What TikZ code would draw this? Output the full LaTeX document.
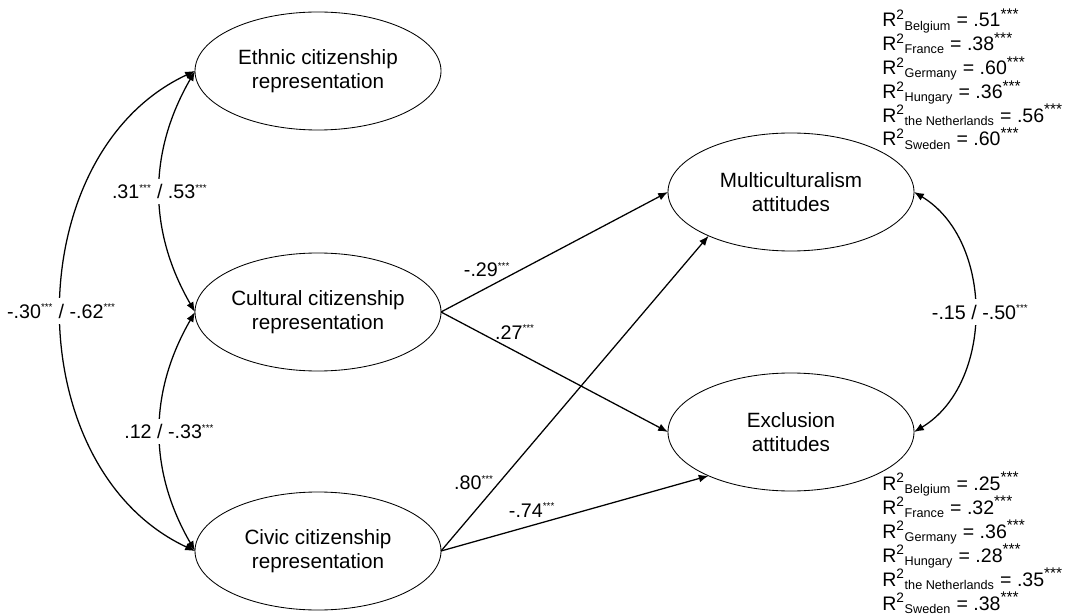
\documentclass[tikz,border=0pt]{standalone}
\usepackage{fontspec}
\setmainfont{Liberation Sans}
\usetikzlibrary{shapes.geometric,arrows.meta}

\newcommand{\pstars}{\textsuperscript{\fontsize{7pt}{7pt}\selectfont ***}}
\newcommand{\rstars}{\textsuperscript{\fontsize{11pt}{11pt}\selectfont ***}}
\newcommand{\rsq}[1]{R\textsuperscript{2}\textsubscript{\fontsize{9pt}{9pt}\selectfont #1}}

\tikzset{
    latent/.style={draw, ellipse, line width=0.6pt, minimum width=6.15cm, minimum height=2.95cm,
        inner sep=0pt, outer sep=0pt, align=center, font=\fontsize{14.7pt}{17pt}\selectfont},
    effect/.style={-{Latex[length=7pt,width=5.5pt]}, line width=0.9pt},
    corr/.style={{Latex[length=7pt,width=5.5pt]}-{Latex[length=7pt,width=5.5pt]}, line width=0.9pt},
    coef/.style={font=\fontsize{14pt}{14pt}\selectfont, inner sep=1pt},
    corrlbl/.style={coef, fill=white, inner sep=4pt},
    rsqline/.style={font=\fontsize{13.9pt}{17pt}\selectfont, inner sep=0pt, anchor=base west}
}

\begin{document}
\begin{tikzpicture}
                    \useasboundingbox (0,0) rectangle (26.85,15.35);
                    % latent variables
                    \node [latent] (ethnic) at (7.95,13.575) {Ethnic citizenship\\representation};
                    \node [latent] (cultural) at (7.95,7.55) {Cultural citizenship\\representation};
                    \node [latent] (civic) at (7.95,1.575) {Civic citizenship\\representation};
                    \node [latent] (multi) at (19.775,10.55) {Multiculturalism\\attitudes};
                    \node [latent] (excl) at (19.775,4.55) {Exclusion\\attitudes};
                    % paths
                    \draw [effect] (cultural.east) -- (multi.west);
                    \draw [effect] (cultural.east) -- (excl.west);
                    \draw [effect] (civic.east) -- (multi.208);
                    \draw [effect] (civic.east) -- (excl.208);
                    \node [coef] (b1) at (12.175,8.6) {-.29\pstars};
                    \node [coef] (b2) at (12.875,7.05) {.27\pstars};
                    \node [coef] (b3) at (11.85,3.275) {.80\pstars};
                    \node [coef] (b4) at (13.3,2.6) {-.74\pstars};
                    % correlations
                    \draw [corr] (ethnic.west) to [out=240, in=120] node [corrlbl, midway] (r1) {.31\pstars{} / .53\pstars} (cultural.west);
                    \draw [corr] (cultural.west) to [out=240, in=120] node [corrlbl, midway, xshift=0.23cm] (r2) {.12 / -.33\pstars} (civic.west);
                    \draw [corr] (ethnic.west) to [out=205, in=155, looseness=1.05] node [corrlbl, midway] (r3) {-.30\pstars{} / -.62\pstars} (civic.west);
                    \draw [corr] (multi.east) to [out=-31, in=31] node [corrlbl, midway, xshift=0.15cm] (r4) {-.15 / -.50\pstars} (excl.east);
                    % explained variance
                    \foreach \cty/\val [count=\i from 0] in {Belgium/.51, France/.38, Germany/.60, Hungary/.36, the Netherlands/.56, Sweden/.60}
                        \node [rsqline] (rm\i) at (22.05,{14.675-0.595*\i}) {\rsq{\cty} = \val\rstars};
                    \foreach \cty/\val [count=\i from 0] in {Belgium/.25, France/.32, Germany/.36, Hungary/.28, the Netherlands/.35, Sweden/.38}
                        \node [rsqline] (re\i) at (22.05,{3.1-0.6*\i}) {\rsq{\cty} = \val\rstars};
                \end{tikzpicture}
\end{document}
